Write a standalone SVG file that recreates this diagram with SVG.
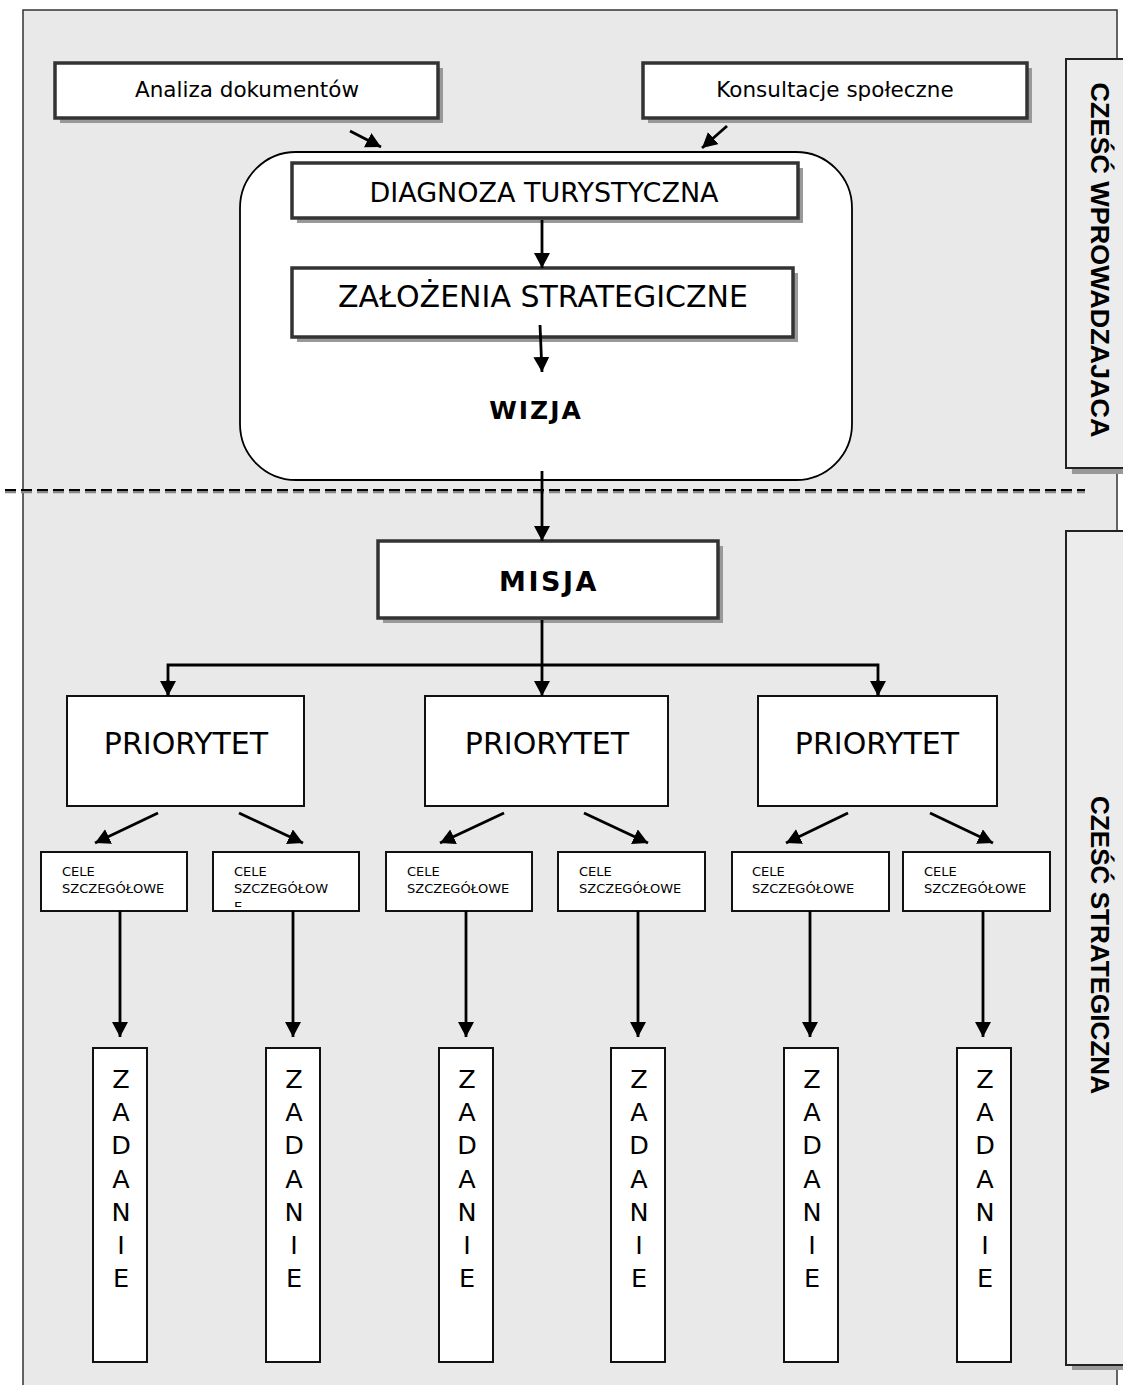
<svg xmlns="http://www.w3.org/2000/svg" width="1123" height="1385" viewBox="0 0 1123 1385">
<style>
.t{font-family:"DejaVu Sans",Verdana,sans-serif;fill:#000}
.lbl{font-family:"Liberation Sans",Arial,sans-serif;font-weight:bold;fill:#000}
.thick{fill:#fff;stroke:#333;stroke-width:3.5}
.shadow{fill:#999}
.thin{fill:#fff;stroke:#111;stroke-width:2}
.conn{fill:none;stroke:#000;stroke-width:2.8}
</style>
<defs>
<marker id="ah" markerUnits="userSpaceOnUse" markerWidth="17" markerHeight="17" refX="15" refY="8" orient="auto">
<path d="M0,0 L15,8 L0,16 z" fill="#000"/>
</marker>
<clipPath id="clipB"><rect x="214" y="853" width="144" height="54"/></clipPath>
</defs>

<rect x="23" y="10" width="1094" height="1400" fill="#e9e9e9" stroke="#333" stroke-width="1.5"/>

<g id="label-wprowadzajaca">
<rect x="1072" y="64" width="60" height="410" class="shadow"/>
<rect x="1066" y="59" width="70" height="409" fill="#ececec" stroke="#222" stroke-width="2"/>
<text class="lbl" font-size="25" text-anchor="middle" textLength="355" lengthAdjust="spacingAndGlyphs" transform="translate(1091,260) rotate(90)">CZEŚĆ WPROWADZAJACA</text>
</g>
<g id="label-strategiczna">
<rect x="1072" y="536" width="60" height="834" class="shadow"/>
<rect x="1066" y="531" width="70" height="834" fill="#ececec" stroke="#222" stroke-width="2"/>
<text class="lbl" font-size="25" text-anchor="middle" textLength="298" lengthAdjust="spacingAndGlyphs" transform="translate(1091,945) rotate(90)">CZEŚĆ STRATEGICZNA</text>
</g>

<g id="divider">
<line x1="5" y1="492" x2="1085" y2="492" stroke="#888" stroke-width="2.5" stroke-dasharray="11 5"/>
<line x1="5" y1="490" x2="1085" y2="490" stroke="#000" stroke-width="2" stroke-dasharray="11 5"/>
</g>

<g id="analiza">
<rect x="60" y="68" width="383" height="55" class="shadow"/>
<rect x="55" y="63" width="383" height="55" class="thick"/>
<text class="t" x="247" y="97" font-size="21.5" text-anchor="middle">Analiza dokumentów</text>
</g>
<g id="konsultacje">
<rect x="648" y="68" width="384" height="55" class="shadow"/>
<rect x="643" y="63" width="384" height="55" class="thick"/>
<text class="t" x="835" y="97" font-size="21.5" text-anchor="middle">Konsultacje społeczne</text>
</g>

<g id="wizja-group">
<rect x="240" y="152" width="612" height="328" rx="56" ry="56" fill="#fff" stroke="#000" stroke-width="1.8"/>
</g>
<g id="diagnoza">
<rect x="297" y="168" width="506" height="55" class="shadow"/>
<rect x="292" y="163" width="506" height="55" class="thick"/>
<text class="t" x="544" y="202" font-size="27" text-anchor="middle">DIAGNOZA TURYSTYCZNA</text>
</g>
<g id="zalozenia">
<rect x="297" y="273" width="501" height="69" class="shadow"/>
<rect x="292" y="268" width="501" height="69" class="thick"/>
<text class="t" x="543" y="307" font-size="30" text-anchor="middle">ZAŁOŻENIA STRATEGICZNE</text>
</g>
<g id="wizja">
<text class="t" x="536" y="419" font-size="25" font-weight="bold" text-anchor="middle" letter-spacing="2">WIZJA</text>
</g>

<g id="misja">
<rect x="383" y="546" width="340" height="77" class="shadow"/>
<rect x="378" y="541" width="340" height="77" class="thick"/>
<text class="t" x="549" y="591" font-size="27" font-weight="bold" text-anchor="middle" letter-spacing="2.5">MISJA</text>
</g>

<g id="priorytet-1">
<rect x="67" y="696" width="237" height="110" class="thin"/>
<text class="t" x="186" y="754" font-size="30" text-anchor="middle">PRIORYTET</text>
</g>
<g id="priorytet-2">
<rect x="425" y="696" width="243" height="110" class="thin"/>
<text class="t" x="547" y="754" font-size="30" text-anchor="middle">PRIORYTET</text>
</g>
<g id="priorytet-3">
<rect x="758" y="696" width="239" height="110" class="thin"/>
<text class="t" x="877" y="754" font-size="30" text-anchor="middle">PRIORYTET</text>
</g>

<g id="cele-1">
<rect x="41" y="852" width="146" height="59" class="thin"/>
<text class="t" x="62" y="876" font-size="13">CELE</text>
<text class="t" x="62" y="893" font-size="13">SZCZEGÓŁOWE</text>
</g>
<g id="cele-2">
<rect x="213" y="852" width="146" height="59" class="thin"/>
<text class="t" x="234" y="876" font-size="13">CELE</text>
<text class="t" x="234" y="893" font-size="13">SZCZEGÓŁOW</text>
<text class="t" x="234" y="911" font-size="13" clip-path="url(#clipB)">E</text>
</g>
<g id="cele-3">
<rect x="386" y="852" width="146" height="59" class="thin"/>
<text class="t" x="407" y="876" font-size="13">CELE</text>
<text class="t" x="407" y="893" font-size="13">SZCZEGÓŁOWE</text>
</g>
<g id="cele-4">
<rect x="558" y="852" width="147" height="59" class="thin"/>
<text class="t" x="579" y="876" font-size="13">CELE</text>
<text class="t" x="579" y="893" font-size="13">SZCZEGÓŁOWE</text>
</g>
<g id="cele-5">
<rect x="732" y="852" width="157" height="59" class="thin"/>
<text class="t" x="752" y="876" font-size="13">CELE</text>
<text class="t" x="752" y="893" font-size="13">SZCZEGÓŁOWE</text>
</g>
<g id="cele-6">
<rect x="903" y="852" width="147" height="59" class="thin"/>
<text class="t" x="924" y="876" font-size="13">CELE</text>
<text class="t" x="924" y="893" font-size="13">SZCZEGÓŁOWE</text>
</g>

<g id="zadanie-1">
<rect x="93" y="1048" width="54" height="314" class="thin"/>
<text class="t" font-size="25.5" text-anchor="middle"><tspan x="121" y="1088">Z</tspan><tspan x="121" y="1121">A</tspan><tspan x="121" y="1154">D</tspan><tspan x="121" y="1188">A</tspan><tspan x="121" y="1221">N</tspan><tspan x="121" y="1254">I</tspan><tspan x="121" y="1287">E</tspan></text>
</g>
<g id="zadanie-2">
<rect x="266" y="1048" width="54" height="314" class="thin"/>
<text class="t" font-size="25.5" text-anchor="middle"><tspan x="294" y="1088">Z</tspan><tspan x="294" y="1121">A</tspan><tspan x="294" y="1154">D</tspan><tspan x="294" y="1188">A</tspan><tspan x="294" y="1221">N</tspan><tspan x="294" y="1254">I</tspan><tspan x="294" y="1287">E</tspan></text>
</g>
<g id="zadanie-3">
<rect x="439" y="1048" width="54" height="314" class="thin"/>
<text class="t" font-size="25.5" text-anchor="middle"><tspan x="467" y="1088">Z</tspan><tspan x="467" y="1121">A</tspan><tspan x="467" y="1154">D</tspan><tspan x="467" y="1188">A</tspan><tspan x="467" y="1221">N</tspan><tspan x="467" y="1254">I</tspan><tspan x="467" y="1287">E</tspan></text>
</g>
<g id="zadanie-4">
<rect x="611" y="1048" width="54" height="314" class="thin"/>
<text class="t" font-size="25.5" text-anchor="middle"><tspan x="639" y="1088">Z</tspan><tspan x="639" y="1121">A</tspan><tspan x="639" y="1154">D</tspan><tspan x="639" y="1188">A</tspan><tspan x="639" y="1221">N</tspan><tspan x="639" y="1254">I</tspan><tspan x="639" y="1287">E</tspan></text>
</g>
<g id="zadanie-5">
<rect x="784" y="1048" width="54" height="314" class="thin"/>
<text class="t" font-size="25.5" text-anchor="middle"><tspan x="812" y="1088">Z</tspan><tspan x="812" y="1121">A</tspan><tspan x="812" y="1154">D</tspan><tspan x="812" y="1188">A</tspan><tspan x="812" y="1221">N</tspan><tspan x="812" y="1254">I</tspan><tspan x="812" y="1287">E</tspan></text>
</g>
<g id="zadanie-6">
<rect x="957" y="1048" width="54" height="314" class="thin"/>
<text class="t" font-size="25.5" text-anchor="middle"><tspan x="985" y="1088">Z</tspan><tspan x="985" y="1121">A</tspan><tspan x="985" y="1154">D</tspan><tspan x="985" y="1188">A</tspan><tspan x="985" y="1221">N</tspan><tspan x="985" y="1254">I</tspan><tspan x="985" y="1287">E</tspan></text>
</g>

<g id="connectors">
<line class="conn" x1="350" y1="131" x2="381" y2="147" marker-end="url(#ah)"/>
<line class="conn" x1="727" y1="126" x2="702" y2="148" marker-end="url(#ah)"/>
<line class="conn" x1="542" y1="220" x2="542" y2="268" marker-end="url(#ah)"/>
<line class="conn" x1="540" y1="325" x2="542" y2="372" marker-end="url(#ah)"/>
<line class="conn" x1="542" y1="471" x2="542" y2="541" marker-end="url(#ah)"/>
<line class="conn" x1="542" y1="620" x2="542" y2="696" marker-end="url(#ah)"/>
<polyline class="conn" points="168,696 168,665 878,665 878,696" stroke-linejoin="miter"/>
<line class="conn" x1="168" y1="680" x2="168" y2="696" marker-end="url(#ah)"/>
<line class="conn" x1="878" y1="680" x2="878" y2="696" marker-end="url(#ah)"/>
<line class="conn" x1="158" y1="813" x2="95" y2="843" marker-end="url(#ah)"/>
<line class="conn" x1="239" y1="813" x2="303" y2="843" marker-end="url(#ah)"/>
<line class="conn" x1="504" y1="813" x2="440" y2="843" marker-end="url(#ah)"/>
<line class="conn" x1="584" y1="813" x2="648" y2="843" marker-end="url(#ah)"/>
<line class="conn" x1="848" y1="813" x2="786" y2="843" marker-end="url(#ah)"/>
<line class="conn" x1="930" y1="813" x2="993" y2="843" marker-end="url(#ah)"/>
<line class="conn" x1="120" y1="911" x2="120" y2="1037" marker-end="url(#ah)"/>
<line class="conn" x1="293" y1="911" x2="293" y2="1037" marker-end="url(#ah)"/>
<line class="conn" x1="466" y1="911" x2="466" y2="1037" marker-end="url(#ah)"/>
<line class="conn" x1="638" y1="911" x2="638" y2="1037" marker-end="url(#ah)"/>
<line class="conn" x1="810" y1="911" x2="810" y2="1037" marker-end="url(#ah)"/>
<line class="conn" x1="983" y1="911" x2="983" y2="1037" marker-end="url(#ah)"/>
</g>
</svg>
